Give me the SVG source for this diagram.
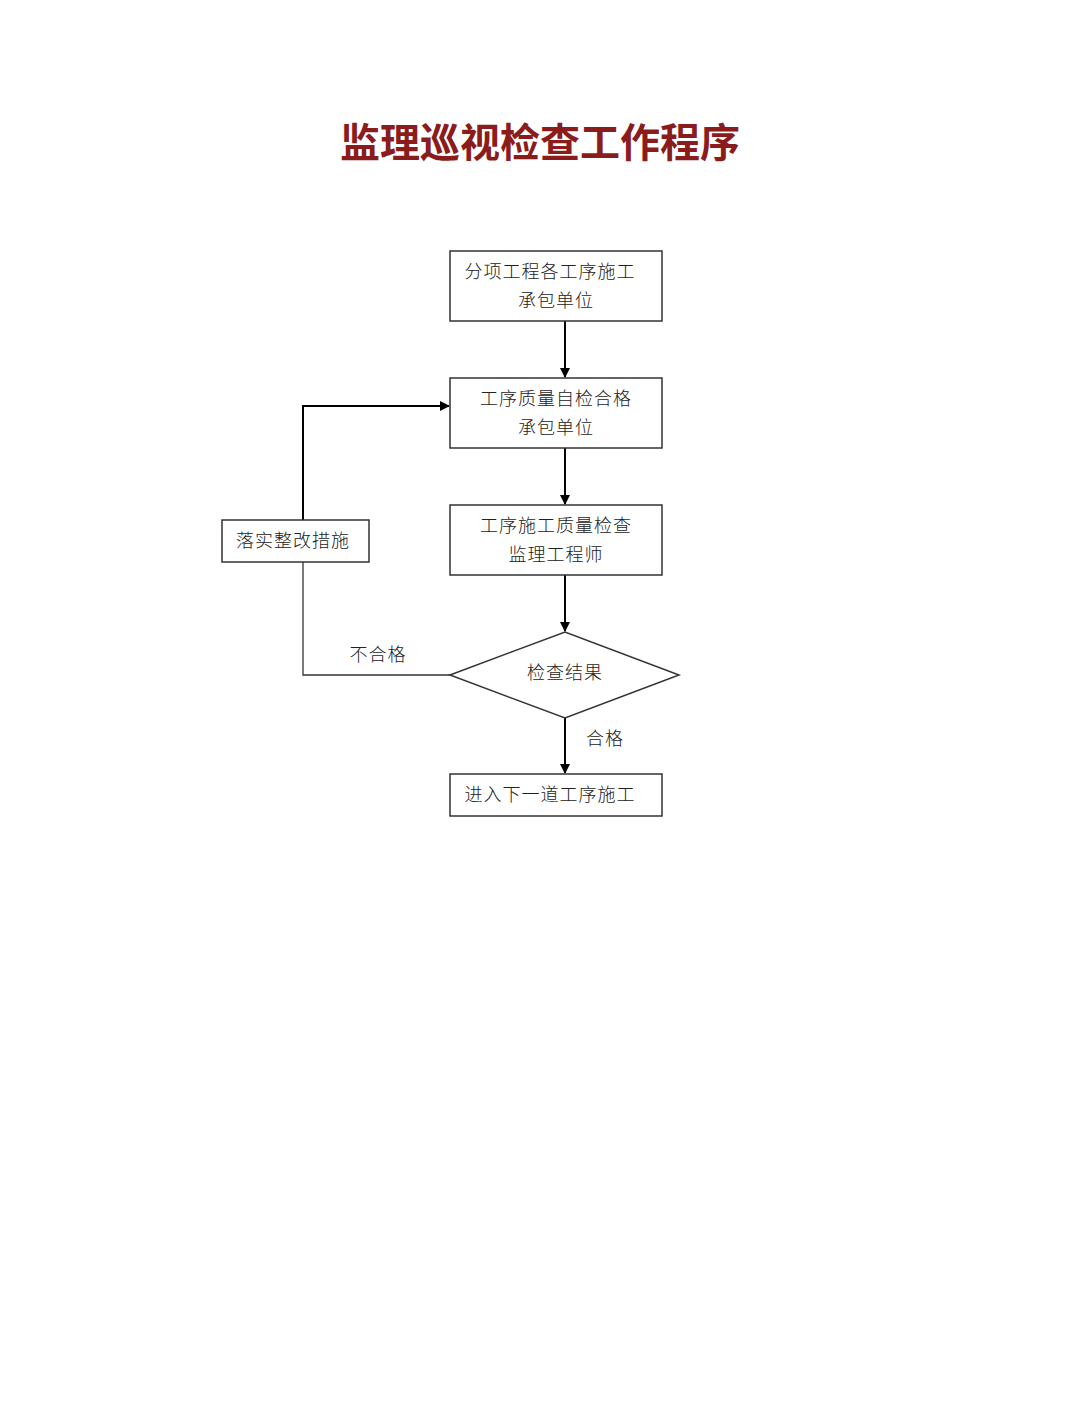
<svg xmlns="http://www.w3.org/2000/svg" width="1080" height="1401" viewBox="0 0 1080 1401">
<defs>
<marker id="ah" markerWidth="10" markerHeight="10" refX="9" refY="5" orient="auto" markerUnits="userSpaceOnUse"><path d="M0,0 L10,5 L0,10 z" fill="#000"/></marker>
<style>
.b{fill:#fff;stroke:#333;stroke-width:1.5}
.t{font-family:"Noto Sans CJK SC",sans-serif;font-size:18px;letter-spacing:1px;fill:#222;text-anchor:middle;font-weight:300}
.c{stroke:#000;stroke-width:2;fill:none}
.c1{stroke:#333;stroke-width:1.3;fill:none}
</style>
</defs>
<rect width="1080" height="1401" fill="#fff"/>
<text x="540" y="157" font-family="Noto Sans CJK SC,sans-serif" font-size="40" font-weight="bold" fill="#8b1c1c" text-anchor="middle">监理巡视检查工作程序</text>
<g id="connectors">
<line class="c" x1="565" y1="321" x2="565" y2="377" marker-end="url(#ah)"/>
<line class="c" x1="565" y1="448" x2="565" y2="504" marker-end="url(#ah)"/>
<line class="c" x1="565" y1="575" x2="565" y2="631" marker-end="url(#ah)"/>
<line class="c" x1="565" y1="718" x2="565" y2="773" marker-end="url(#ah)"/>
<polyline class="c1" points="450,675 303,675 303,562"/>
<polyline class="c" points="303,520 303,406 449,406" marker-end="url(#ah)"/>
<text class="t" x="378" y="661">不合格</text>
<text class="t" x="605" y="745">合格</text>
</g>
<g id="n1"><rect class="b" x="450" y="251" width="212" height="70"/><text class="t" x="550" y="278">分项工程各工序施工</text><text class="t" x="556" y="307">承包单位</text></g>
<g id="n2"><rect class="b" x="450" y="378" width="212" height="70"/><text class="t" x="556" y="405">工序质量自检合格</text><text class="t" x="556" y="434">承包单位</text></g>
<g id="n3"><rect class="b" x="450" y="505" width="212" height="70"/><text class="t" x="556" y="532">工序施工质量检查</text><text class="t" x="556" y="561">监理工程师</text></g>
<g id="n4"><polygon class="b" points="450,675 565,632 679,675 565,718"/><text class="t" x="565" y="679">检查结果</text></g>
<g id="n5"><rect class="b" x="450" y="774" width="212" height="42"/><text class="t" x="550" y="801">进入下一道工序施工</text></g>
<g id="n6"><rect class="b" x="222" y="520" width="147" height="42"/><text class="t" x="293" y="547">落实整改措施</text></g>
</svg>
